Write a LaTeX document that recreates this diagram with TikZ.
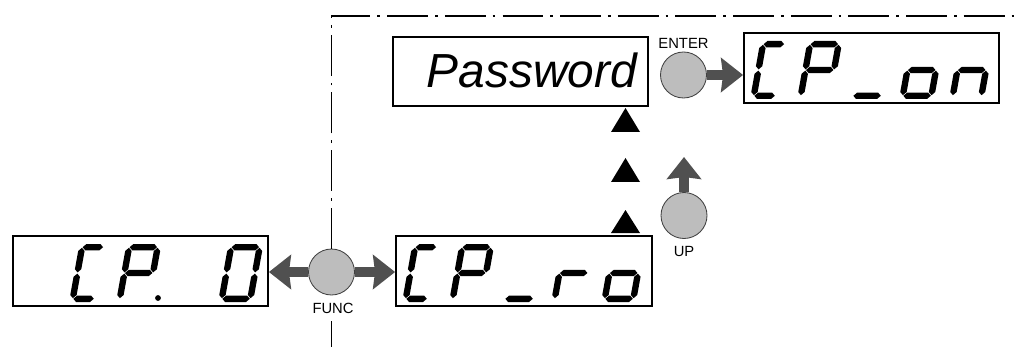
\documentclass[tikz,border=0pt]{standalone}
\usepackage{fontspec}
\setmainfont{Liberation Sans}
\usetikzlibrary{arrows.meta}
\definecolor{btngray}{HTML}{BDBDBD}
\definecolor{arrgray}{HTML}{505050}
\def\hh{3.2}\def\gp{0.6}\def\sl{0.18}
\newcommand\hseg[3]{\fill (#1+\gp,#3) -- (#1+\gp+\hh,#3-\hh) -- (#2-\gp-\hh,#3-\hh) -- (#2-\gp,#3) -- (#2-\gp-\hh,#3+\hh) -- (#1+\gp+\hh,#3+\hh) -- cycle;}
\newcommand\vseg[3]{\fill (#1,#2+\gp) -- (#1+\hh,#2+\gp+\hh) -- (#1+\hh,#3-\gp-\hh) -- (#1,#3-\gp) -- (#1-\hh,#3-\gp-\hh) -- (#1-\hh,#2+\gp+\hh) -- cycle;}
\def\dsA{\hseg{\hh}{\xR}{-58+\hh}}
\def\dsG{\hseg{\hh}{\xR}{-29}}
\def\dsD{\hseg{\hh}{\xR}{-\hh}}
\def\dsF{\vseg{\hh}{-58+\hh}{-29}}
\def\dsE{\vseg{\hh}{-29}{-\hh}}
\def\dsB{\vseg{\xR}{-58+\hh}{-29}}
\def\dsC{\vseg{\xR}{-29}{-\hh}}
\newcommand\sevdig[4]{\begin{scope}[shift={(#1,#2)},xslant=\sl]\pgfmathsetmacro\xR{#3-\hh}\foreach \s in {#4}{\csname ds\s\endcsname}\end{scope}}
\begin{document}
\begin{tikzpicture}[x=0.025cm,y=-0.025cm,
  lcd/.style={draw, line width=1.3pt, inner sep=0pt, minimum height=70*0.025cm},
  btn/.style={circle, draw=black!75, fill=btngray, line width=0.6pt, minimum size=46*0.025cm, inner sep=0pt},
  lbl/.style={font=\fontsize{10.5}{12}\selectfont, inner sep=0pt},
  bigarrow/.style={draw=arrgray, line width=6.6pt, -{Stealth[length=0.55cm,width=0.85cm,inset=0.05cm]}},
  frame/.style={line width=1.2pt, dash pattern=on 29pt off 5pt on 2pt off 5pt}]
\useasboundingbox (0,0) rectangle (1018,347);
% displays
\node[lcd, minimum width=255*0.025cm] (d0) at (140.5,271) {};
\node[lcd, minimum width=256*0.025cm] (dro) at (524,271) {};
\node[lcd, minimum width=255*0.025cm, minimum height=69*0.025cm] (pw) at (520.5,71.5) {};
\node[lcd, minimum width=255*0.025cm] (don) at (871.5,68) {};
\node[anchor=base east, inner sep=0pt, font=\fontsize{34}{36}\selectfont\itshape] (pwtext) at (637,88) {Password};
% buttons
\node[btn] (func) at (331.5,272) {};
\node[lbl] (funcl) at (333,308.5) {FUNC};
\node[btn] (enter) at (683.5,75) {};
\node[lbl] (enterl) at (683.5,43.5) {ENTER};
\node[btn] (up) at (684,215.5) {};
\node[lbl] (upl) at (684,251.5) {UP};
% frame
\coordinate (corner) at (331.5,16);
\coordinate (topend) at (1018,16);
\coordinate (botstart) at (331.5,321);
\coordinate (botend) at (331.5,347);
\draw[frame] (func.north) -- (corner) -- (topend);
\draw[frame] (botstart) -- (botend);
% arrows
\draw[bigarrow] (func) -- (func -| d0.east);
\draw[bigarrow] (func) -- (func -| dro.west);
\draw[bigarrow] (enter) -- (enter -| don.west);
\coordinate (uptip) at (684,157);
\draw[bigarrow] (up) -- (uptip);
% triangles
\fill (611,132) -- (625.5,108) -- (640,132) -- cycle;
\fill (611,182) -- (625.5,158) -- (640,182) -- cycle;
\fill (611,233) -- (625.5,210) -- (640,233) -- cycle;
% seven-segment glyphs
\sevdig{69}{302}{28}{A,F,E,D}
\sevdig{116}{302}{35}{A,B,F,G,E}
\fill (158,298) circle[radius=2.9];
\sevdig{218}{302}{35}{A,B,C,D,E,F}
\sevdig{402}{302}{28}{A,F,E,D}
\sevdig{449}{302}{35}{A,B,F,G,E}
\sevdig{501}{302}{35}{D}
\sevdig{551}{302}{35}{E,G}
\sevdig{601}{302}{35}{C,D,E,G}
\sevdig{750}{99}{28}{A,F,E,D}
\sevdig{797}{99}{35}{A,B,F,G,E}
\sevdig{849}{99}{35}{D}
\sevdig{899}{99}{35}{C,D,E,G}
\sevdig{949}{99}{35}{C,E,G}
\end{tikzpicture}
\end{document}
